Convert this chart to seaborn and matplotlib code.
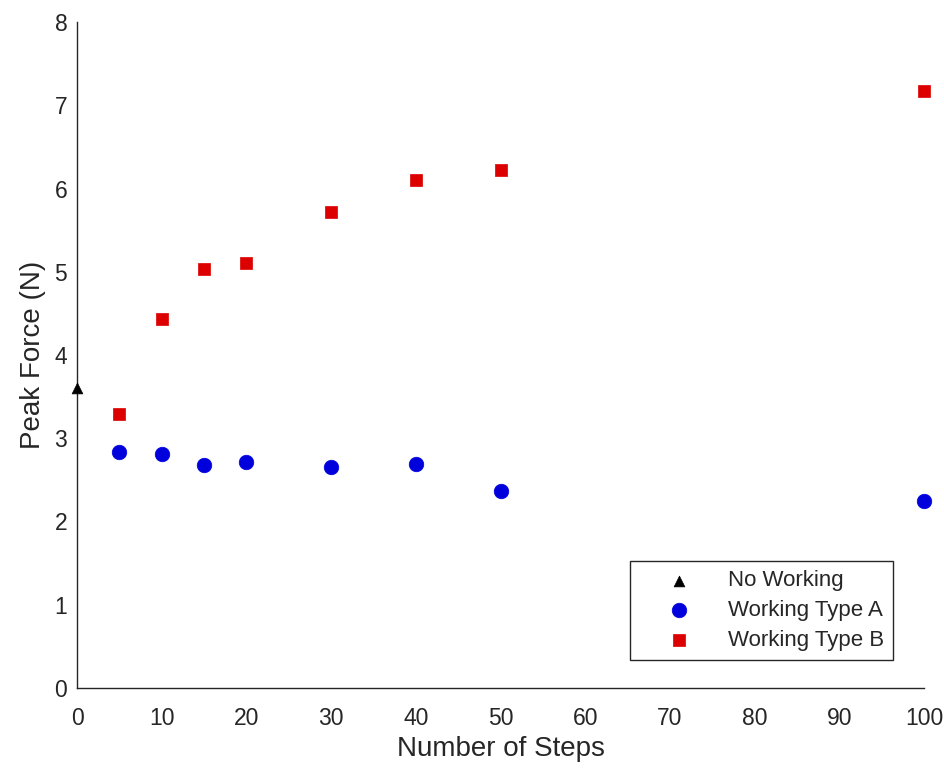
import numpy as np
import pandas as pd
import matplotlib
matplotlib.use("Agg")
import matplotlib.pyplot as plt
import seaborn as sns

# Data
steps_none = [0]
force_none = [3.60]
steps = [5, 10, 15, 20, 30, 40, 50, 100]
type_a = [2.83, 2.81, 2.68, 2.71, 2.65, 2.69, 2.37, 2.25]
type_b = [3.29, 4.43, 5.03, 5.10, 5.72, 6.10, 6.22, 7.17]
labels = ["No Working", "Working Type A", "Working Type B"]
x_ticks = list(range(0, 101, 10))
y_ticks = list(range(0, 9))

df = pd.concat([
    pd.DataFrame({"steps": steps_none, "force": force_none, "group": labels[0]}),
    pd.DataFrame({"steps": steps, "force": type_a, "group": labels[1]}),
    pd.DataFrame({"steps": steps, "force": type_b, "group": labels[2]}),
], ignore_index=True)

sns.set_style("white")
plt.rcParams["font.family"] = ["Liberation Sans", "DejaVu Sans"]

fig = plt.figure(figsize=(9.45, 7.73), dpi=100)
ax = fig.add_axes([0.0815, 0.110, 0.8965, 0.8615])

palette = {labels[0]: "#000000", labels[1]: "#0000dd", labels[2]: "#dd0000"}
markers = {labels[0]: "^", labels[1]: "o", labels[2]: "s"}
sizes = {labels[0]: 60, labels[1]: 110, labels[2]: 85}

for lab in labels:
    sub = df[df["group"] == lab]
    sns.scatterplot(data=sub, x="steps", y="force", color=palette[lab],
                    marker=markers[lab], s=sizes[lab], edgecolor=palette[lab],
                    linewidth=0.5, label=lab, ax=ax, clip_on=False, zorder=3)

ax.set_xlim(0, 100)
ax.set_ylim(0, 8)
ax.set_xticks(x_ticks)
ax.set_yticks(y_ticks)
ax.set_xticklabels([str(t) for t in x_ticks])
ax.set_yticklabels([str(t) for t in y_ticks])
ax.tick_params(direction="in", length=5, width=1, colors="#262626",
               labelsize=16.5, labelcolor="#262626")
ax.tick_params(axis="x", pad=14)
ax.tick_params(axis="y", pad=7)
for s in ["top", "right"]:
    ax.spines[s].set_visible(False)
for s in ["left", "bottom"]:
    ax.spines[s].set_color("#262626")
    ax.spines[s].set_linewidth(1)
ax.set_xlabel("Number of Steps", fontsize=20, color="#262626", labelpad=4)
ax.set_ylabel("Peak Force (N)", fontsize=20, color="#262626", labelpad=6)

leg = ax.legend(loc="lower right", bbox_to_anchor=(0.963, 0.042), fontsize=16,
                frameon=True, fancybox=False, edgecolor="#262626", framealpha=1,
                borderpad=0.4, handletextpad=0.4, labelspacing=0.4,
                handlelength=3.6, borderaxespad=0)
leg.get_frame().set_linewidth(1)
for t in leg.get_texts():
    t.set_color("#262626")

fig.savefig("out.png", dpi=100)
